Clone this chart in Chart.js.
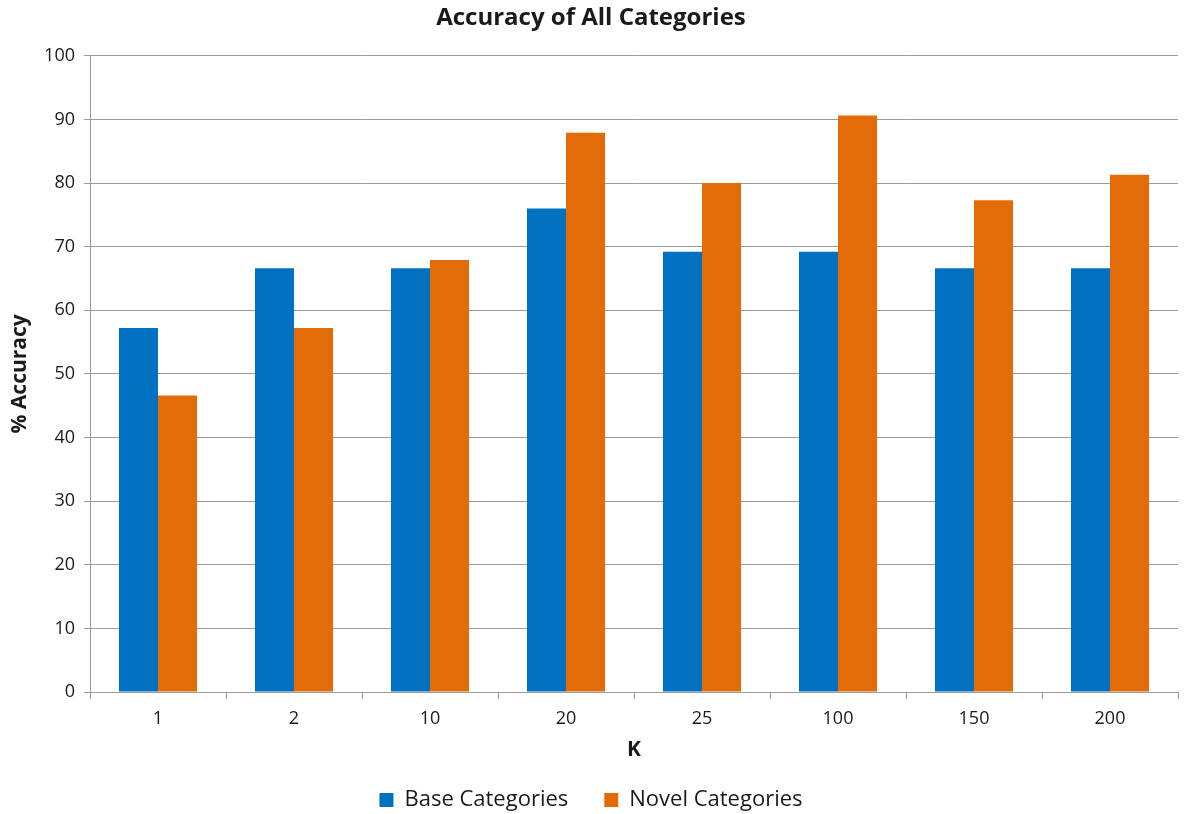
<!DOCTYPE html>
<html>
<head>
<meta charset="utf-8">
<style>
  html, body { margin: 0; padding: 0; background: #ffffff; }
  #wrap { width: 1186px; height: 814px; }
</style>
<script src="https://cdn.jsdelivr.net/npm/chart.js@4/dist/chart.umd.min.js"></script>
</head>
<body>
<div id="wrap"><canvas id="chart" width="1186" height="814"></canvas></div>
<script>
// Number of neighbours K
const kValues = ['1', '2', '10', '20', '25', '100', '150', '200'];
// % accuracy per K
const baseAccuracy  = [57.2, 66.6, 66.6, 76.0, 69.2, 69.2, 66.6, 66.6];
const novelAccuracy = [46.6, 57.2, 67.9, 87.9, 80.0, 90.6, 77.3, 81.3];
// Y-axis ticks
const yMin = 0, yMax = 100, yStep = 10;

const FONT = "'Open Sans', Lato, 'Liberation Sans', sans-serif";
const TEXT = '#1a1a1a';
const GRID = '#9a9a9a';

new Chart(document.getElementById('chart'), {
  type: 'bar',
  data: {
    labels: kValues,
    datasets: [
      { label: 'Base Categories',  data: baseAccuracy,  backgroundColor: '#0070C0', borderWidth: 0 },
      { label: 'Novel Categories', data: novelAccuracy, backgroundColor: '#E36C09', borderWidth: 0 }
    ]
  },
  options: {
    responsive: false,
    animation: false,
    devicePixelRatio: 1,
    layout: { padding: { top: 0, right: 8, bottom: -7, left: 4 } },
    datasets: { bar: { categoryPercentage: 0.574, barPercentage: 1.0 } },
    plugins: {
      title: {
        display: true,
        text: 'Accuracy of All Categories',
        color: TEXT,
        font: { family: FONT, size: 24, weight: 'bold' },
        padding: { top: 4, bottom: 23 }
      },
      legend: {
        position: 'bottom',
        labels: {
          color: TEXT,
          font: { family: FONT, size: 22 },
          boxWidth: 14, boxHeight: 14,
          padding: 36
        }
      },
      tooltip: { enabled: false }
    },
    scales: {
      x: {
        grid: { drawOnChartArea: false, drawTicks: true, tickLength: 7, color: GRID, offset: true },
        border: { color: GRID, width: 1 },
        ticks: { color: TEXT, font: { family: FONT, size: 18 }, padding: 9 },
        title: { display: true, text: 'K', color: TEXT, font: { family: FONT, size: 21, weight: 'bold', lineHeight: 1 }, padding: { top: 0, bottom: -8 } },
        afterFit: (scale) => { scale.height = 61; }
      },
      y: {
        min: yMin, max: yMax,
        grid: { color: GRID, tickLength: 6 },
        border: { color: GRID, width: 1 },
        ticks: { stepSize: yStep, color: TEXT, font: { family: FONT, size: 18 }, padding: 9 },
        title: { display: true, text: '% Accuracy', color: TEXT, font: { family: FONT, size: 21, weight: 'bold' }, padding: { top: 3, bottom: 4 } },
        afterFit: (scale) => { scale.width = 86; }
      }
    }
  }
});
</script>
</body>
</html>
